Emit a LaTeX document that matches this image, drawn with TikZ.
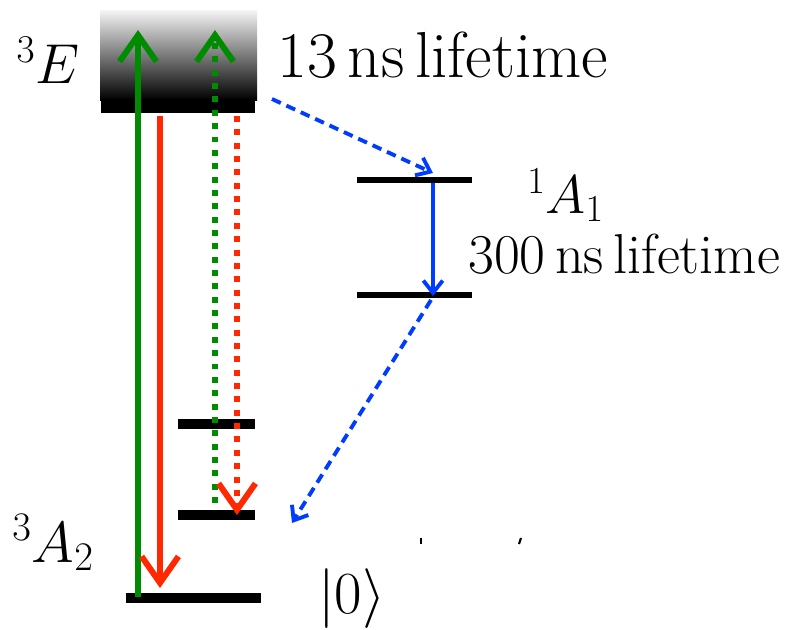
\RequirePackage{fix-cm}
\documentclass[tikz,border=0pt]{standalone}
\usepackage{amsmath}
\usetikzlibrary{arrows.meta}
\definecolor{pumpgreen}{RGB}{0,140,0}
\definecolor{emitred}{RGB}{255,40,0}
\definecolor{iscblue}{RGB}{0,60,255}

\begin{document}
\begin{tikzpicture}[x=0.02cm, y=-0.02cm,
  level/.style={line width=5.7pt},
  thinlevel/.style={line width=2.9pt},
  bigtip/.style={-{Straight Barb[length=15pt,width=21pt]}},
  pump/.style={pumpgreen, line width=3.4pt, bigtip},
  emit/.style={emitred, line width=3.4pt, bigtip},
  dotline/.style={dash pattern=on 3.4pt off 4.2pt},
  isc/.style={iscblue, line width=2.2pt, -{Straight Barb[length=7pt,width=11pt]}},
  lbl/.style={font=\fontsize{#1}{#1}\selectfont, inner sep=0pt}]

\useasboundingbox (0,0) rectangle (787,629);

% Excited triplet band with its bottom edge
\shade[top color=gray!8, bottom color=black] (100,10) rectangle (257,100);
\fill (101,99) rectangle (255,113);

% Level end points
\coordinate (gnd-l) at (126,598);  \coordinate (gnd-r) at (261,598);
\coordinate (ms1-l) at (178,424);  \coordinate (ms1-r) at (255,424);
\coordinate (ms0-l) at (178,515);  \coordinate (ms0-r) at (255,515);
\coordinate (sup-l) at (357,180);  \coordinate (sup-r) at (472,180);
\coordinate (slo-l) at (357,295);  \coordinate (slo-r) at (472,295);

% Ground state levels
\draw[level] (gnd-l) -- (gnd-r);
\draw[level] (ms1-l) -- (ms1-r);
\draw[level] (ms0-l) -- (ms0-r);

% Singlet levels
\draw[thinlevel] (sup-l) -- (sup-r);
\draw[thinlevel] (slo-l) -- (slo-r);

% Arrow end points
\coordinate (pa0) at (138,597);  \coordinate (pa1) at (138,30);
\coordinate (pb0) at (215,503);  \coordinate (pb1) at (215,30);
\coordinate (ea0) at (160,116);  \coordinate (ea1) at (160,588);
\coordinate (eb0) at (237,116);  \coordinate (eb1) at (237,515);
\coordinate (ia0) at (272,99);   \coordinate (ia1) at (433,173);
\coordinate (ib0) at (433,183);  \coordinate (ib1) at (433,296);
\coordinate (ic0) at (431,300);  \coordinate (ic1) at (292,523);

% Optical pumping and fluorescence
\draw[pump] (pa0) -- (pa1);
\draw[pump, dotline] (pb0) -- (pb1);
\draw[emit] (ea0) -- (ea1);
\draw[emit, dotline] (eb0) -- (eb1);

% Intersystem crossing path
\draw[isc, dash pattern=on 5.5pt off 3.5pt] (ia0) -- (ia1);
\draw[isc] (ib0) -- (ib1);
\draw[isc, dash pattern=on 5.5pt off 3.5pt] (ic0) -- (ic1);

% Labels
\node[lbl=32, anchor=base east] (lab-E) at (80,83) {$^3E$};
\node[lbl=37, anchor=base west] (lab-Et) at (277,77) {13\,ns\,lifetime};
\node[lbl=31, anchor=base west] (lab-A1) at (527,213) {$^1A_1$};
\node[lbl=32, anchor=base west] (lab-A1t) at (468,273) {300\,ns\,lifetime};
\node[lbl=33, anchor=base west] (lab-A2) at (12,562) {$^3A_2$};
\node[lbl=34, anchor=base west] (lab-zero) at (318,613) {$|0\rangle$};

% Stray ticks
\draw[line width=1.2pt] (421,538) -- (421,544);
\draw[line width=1.2pt] (521,538) -- (519,544);

\end{tikzpicture}
\end{document}
